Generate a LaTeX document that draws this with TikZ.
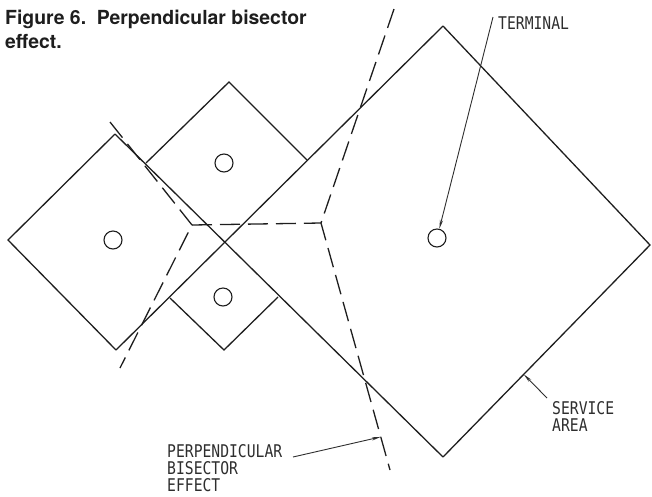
\documentclass[tikz,border=0pt]{standalone}
\usepackage{fontspec}
\setmainfont{TeX Gyre Heros}
\newfontfamily\labelfont[FakeStretch=0.84]{DejaVu Sans Mono}
\usetikzlibrary{arrows.meta,calc}
\definecolor{InkGray}{HTML}{1E1E1E}
\definecolor{TextGray}{HTML}{2E2E2E}

\begin{document}
\begin{tikzpicture}[x=1pt,y=-1pt,
  edge/.style={draw=InkGray,line width=1.3pt,line join=miter},
  bisector/.style={draw=InkGray,line width=1.3pt,dash pattern=on 20pt off 8pt},
  site/.style={circle,draw=InkGray,line width=1.1pt,minimum size=18pt,inner sep=0pt},
  tag/.style={font=\labelfont\fontsize{17.5}{17}\selectfont,text=TextGray,align=left,inner sep=0pt,anchor=north west},
  caption/.style={font=\bfseries\fontsize{19.4}{24}\selectfont,text=InkGray,align=left,inner sep=0pt,anchor=north west},
  leader/.style={-{Stealth[length=9pt,width=3.2pt]},draw=TextGray,line width=0.9pt}
]
\useasboundingbox (0,0) rectangle (652,496);

% corners of the four service areas
\coordinate (hub) at (226,242);
\coordinate (leftT) at (115,134);
\coordinate (leftL) at (8,240);
\coordinate (leftB) at (116,350);
\coordinate (topT) at (229,82);
\coordinate (topL) at (146,163);
\coordinate (topR) at (307,160);
\coordinate (lowL) at (170,298);
\coordinate (lowB) at (224,350);
\coordinate (lowR) at (278,297);
\coordinate (bigT) at (443,26);
\coordinate (bigR) at (650,245);
\coordinate (bigB) at (443,457);

% service areas
\draw[edge] (leftT) -- (bigB);
\draw[edge] (leftB) -- (bigT);
\draw[edge] (leftT) -- (leftL) -- (leftB);
\draw[edge] (topL) -- (topT) -- (topR);
\draw[edge] (lowL) -- (lowB) -- (lowR);
\draw[edge] (bigT) -- (bigR) -- (bigB);

% terminals
\node[site] (siteL) at (113,240) {};
\node[site] (siteT) at (224,163) {};
\node[site] (siteB) at (223,297) {};
\node[site] (siteM) at (437,238) {};

% perpendicular bisectors
\coordinate (vj1) at (192,225);
\coordinate (vj2) at (321,223);
\coordinate (bisNW) at (110,122);
\coordinate (bisSW) at (120,368);
\coordinate (bisN) at (394,9);
\coordinate (bisS) at (390,470);
\draw[bisector] (bisNW) -- (vj1) -- (bisSW);
\draw[bisector] (vj1) -- (vj2);
\draw[bisector] (bisN) -- (vj2) -- (bisS);

% labels
\node[caption] (title) at (5,10) {Figure 6.\hspace{0.55em}Perpendicular bisector\\effect.};
\node[tag] (terminal) at (498,17) {TERMINAL};
\node[tag] (service) at (552,401) {SERVICE\\AREA};
\node[tag] (perp) at (167,444) {PERPENDICULAR\\BISECTOR\\EFFECT};

\coordinate (serviceTip) at ($(bigB)!0.39!(bigR)$);
\coordinate (perpTip) at ($(vj2)!0.866!(bisS)$);
\draw[leader] ([xshift=-5pt]terminal.north west) -- (siteM);
\draw[leader] ([xshift=-5pt,yshift=3pt]service.north west) -- (serviceTip);
\draw[leader] ([xshift=126pt,yshift=-13pt]perp.north west) -- (perpTip);
\end{tikzpicture}
\end{document}
